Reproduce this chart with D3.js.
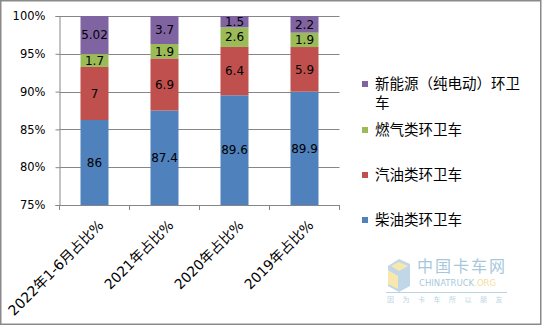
<!DOCTYPE html>
<html>
<head>
<meta charset="utf-8">
<script src="https://cdn.jsdelivr.net/npm/d3@7"></script>
<style>
  html, body { margin: 0; padding: 0; background: #fff; }
  svg { display: block; }
</style>
</head>
<body>
<svg id="chart" width="542" height="327"></svg>
<script>
// Share of sanitation vehicles by fuel type (%)
const categories = ["2022年1-6月占比%", "2021年占比%", "2020年占比%", "2019年占比%"];
const seriesNames = ["柴油类环卫车", "汽油类环卫车", "燃气类环卫车", "新能源（纯电动）环卫车"];
const diesel   = [86, 87.4, 89.6, 89.9];
const gasoline = [7, 6.9, 6.4, 5.9];
const gas      = [1.7, 1.9, 2.6, 1.9];
const electric = [5.02, 3.7, 1.5, 2.2];
const yTicks = [0.75, 0.80, 0.85, 0.90, 0.95, 1.00];
const colors = ["#4F81BD", "#C0504D", "#9BBB59", "#8064A2"];

const seriesValues = [diesel, gasoline, gas, electric];
const rows = categories.map((c, i) => {
  const r = { category: c };
  seriesNames.forEach((s, k) => { r[s] = seriesValues[k][i]; });
  return r;
});

const svg = d3.select("#chart");
const W = 542, H = 327;
const plot = { left: 59.5, right: 339.5, top: 16, bottom: 205 };
const gridColor = "#868686";
const numFont = "'DejaVu Sans', Verdana, sans-serif";
const cjkFont = "'DejaVu Sans', 'Noto Sans CJK SC', sans-serif";

// chart frame
svg.append("rect")
  .attr("x", 0.75).attr("y", 0.75)
  .attr("width", W - 2).attr("height", H - 3.5)
  .attr("fill", "#fff").attr("stroke", "#8a8a8a").attr("stroke-width", 1.5);

const x = d3.scaleBand().domain(categories)
  .range([plot.left, plot.right]).paddingInner(0.6).paddingOuter(0.3);
const y = d3.scaleLinear().domain([0.75, 1]).range([plot.bottom, plot.top]);

// horizontal gridlines
svg.append("g").selectAll("line").data(yTicks.filter(t => t > 0.75)).join("line")
  .attr("x1", plot.left).attr("x2", plot.right)
  .attr("y1", d => Math.round(y(d)) + 0.5).attr("y2", d => Math.round(y(d)) + 0.5)
  .attr("stroke", gridColor).attr("stroke-width", 1);

// y axis
const yAxis = svg.append("g")
  .attr("transform", `translate(${plot.left},0)`)
  .call(d3.axisLeft(y).tickValues(yTicks).tickFormat(d3.format(".0%")).tickSize(4).tickPadding(10));
yAxis.select(".domain").attr("stroke", gridColor);
yAxis.selectAll(".tick line").attr("stroke", gridColor);
yAxis.selectAll(".tick text")
  .attr("fill", "#000").style("font-family", numFont).style("font-size", "11.5px");

// stacked bars (percent of total per category)
const stack = d3.stack().keys(seriesNames).offset(d3.stackOffsetExpand);
const layers = stack(rows);

const barG = svg.append("g");
layers.forEach((layer, k) => {
  barG.append("g").attr("fill", colors[k]).selectAll("rect").data(layer).join("rect")
    .attr("x", d => x(d.data.category))
    .attr("width", x.bandwidth())
    .attr("y", d => y(Math.min(1, d[1])))
    .attr("height", d => y(Math.max(0.75, d[0])) - y(Math.min(1, d[1])));
});

// value labels
const labelG = svg.append("g");
layers.forEach((layer, k) => {
  labelG.append("g").selectAll("text").data(layer).join("text")
    .attr("x", d => x(d.data.category) + x.bandwidth() / 2)
    .attr("y", d => (y(Math.max(0.75, d[0])) + y(Math.min(1, d[1]))) / 2)
    .attr("dy", "0.36em")
    .attr("text-anchor", "middle")
    .style("font-family", numFont).style("font-size", "12px")
    .attr("fill", "#000")
    .text(d => d.data[layer.key]);
});

// x axis
const xAxis = svg.append("g").attr("transform", `translate(0,${plot.bottom})`);
xAxis.append("line").attr("x1", plot.left).attr("x2", plot.right)
  .attr("y1", 0.5).attr("y2", 0.5).attr("stroke", gridColor);
const step = x.step();
const bounds = d3.range(categories.length + 1).map(i => plot.left + i * step);
xAxis.selectAll("line.tk").data(bounds).join("line").attr("class", "tk")
  .attr("x1", d => d).attr("x2", d => d).attr("y1", 0).attr("y2", 5)
  .attr("stroke", gridColor);
xAxis.selectAll("text").data(categories).join("text")
  .attr("transform", d => `translate(${x(d) + x.bandwidth() / 2 + 10},21) rotate(-45)`)
  .attr("text-anchor", "end")
  .style("font-family", cjkFont).style("font-size", "14px")
  .attr("fill", "#000")
  .text(d => d);

// legend (reversed order, wrapped to fit)
const legend = svg.append("g");
const legendX = 362, legendTextX = 375, lineH = 19, maxW = 152, itemGap = 45;
let ly = 84;
seriesNames.slice().reverse().forEach((name, j) => {
  const k = seriesNames.length - 1 - j;
  const t = legend.append("text")
    .attr("x", legendTextX).attr("y", ly)
    .style("font-family", "'Noto Sans CJK SC', sans-serif").style("font-size", "14.5px")
    .attr("fill", "#000");
  // character wrap
  const chars = Array.from(name);
  const lines = [""];
  const probe = t.append("tspan");
  chars.forEach(ch => {
    const trial = lines[lines.length - 1] + ch;
    probe.text(trial);
    if (probe.node().getComputedTextLength() > maxW) lines.push(ch);
    else lines[lines.length - 1] = trial;
  });
  probe.remove();
  lines.forEach((ln, i) => {
    t.append("tspan").attr("x", legendTextX).attr("dy", i === 0 ? "0.36em" : lineH).text(ln);
  });
  legend.append("rect")
    .attr("x", legendX).attr("y", ly - 3).attr("width", 6).attr("height", 6)
    .attr("fill", colors[k]);
  ly += itemGap + (lines.length - 1);
});

// site watermark
const wm = svg.append("g").attr("opacity", 0.55);
wm.append("polygon").attr("points", "388,266 399,259 410,264 410,286 399,292 388,286")
  .attr("fill", "#8fb8d6");
wm.append("polygon").attr("points", "388,270 398,276 398,289 388,284")
  .attr("fill", "#f3d66b");
wm.append("polygon").attr("points", "399,262 408,266 399,271 391,266")
  .attr("fill", "#f3d66b");
wm.append("text").attr("x", 417).attr("y", 272)
  .style("font-family", "'Noto Sans CJK SC', sans-serif").style("font-size", "16px")
  .style("letter-spacing", "2px").attr("fill", "#5f9abf").text("中国卡车网");
const wmt = wm.append("text").attr("x", 419).attr("y", 286)
  .style("font-family", "'DejaVu Sans', sans-serif").style("font-size", "8.5px")
  .attr("fill", "#5f9abf");
wmt.append("tspan").text("CHINATRUCK");
wmt.append("tspan").attr("fill", "#f0c24a").text(".ORG");
wm.append("line").attr("x1", 386).attr("x2", 507).attr("y1", 292.5).attr("y2", 292.5)
  .attr("stroke", "#7fb0cc").attr("stroke-width", 1);
wm.append("text").attr("x", 387).attr("y", 302)
  .style("font-family", "'Noto Sans CJK SC', sans-serif").style("font-size", "7px")
  .style("letter-spacing", "8.5px").attr("fill", "#7fb0cc").text("因为卡车所以朋友");
</script>
</body>
</html>
